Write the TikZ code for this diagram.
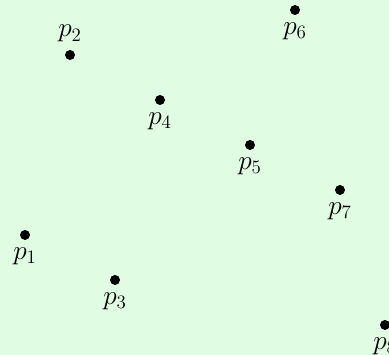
\documentclass[tikz,border=0pt]{standalone}
\definecolor{bg}{RGB}{224,252,226}
\begin{document}
\begin{tikzpicture}[x=45pt/1.58,y=45pt/1.58,
  pt/.style={circle,fill=black,inner sep=0pt,minimum size=10pt/1.58},
  lab/.style={font=\fontsize{18}{21}\selectfont,inner sep=1pt,label distance=3.5pt}]
\fill[bg] (-0.556,-0.667) rectangle (8.089,7.222);
\useasboundingbox (-0.556,-0.667) rectangle (8.089,7.222);
\clip (-0.556,-0.667) rectangle (8.089,7.222);
\node[pt,label={[lab]below:$p_1$}] (p1) at (0,2) {};
\node[pt,label={[lab]above:$p_2$}] (p2) at (1,6) {};
\node[pt,label={[lab]below:$p_3$}] (p3) at (2,1) {};
\node[pt,label={[lab]below:$p_4$}] (p4) at (3,5) {};
\node[pt,label={[lab]below:$p_5$}] (p5) at (5,4) {};
\node[pt,label={[lab]below:$p_6$}] (p6) at (6,7) {};
\node[pt,label={[lab]below:$p_7$}] (p7) at (7,3) {};
\node[pt,label={[lab]below:$p_8$}] (p8) at (8,0) {};
\end{tikzpicture}
\end{document}
